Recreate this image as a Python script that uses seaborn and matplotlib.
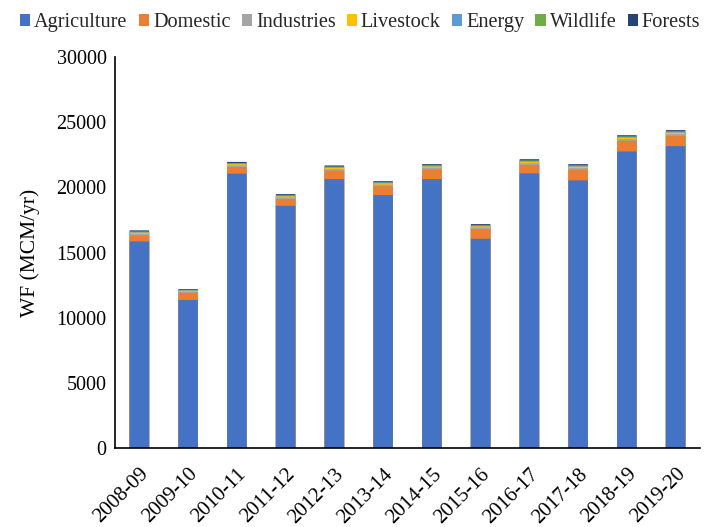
import matplotlib
matplotlib.use("Agg")
import matplotlib.pyplot as plt
from matplotlib.patches import Patch
import numpy as np
import pandas as pd
import seaborn as sns

years = ["2008-09", "2009-10", "2010-11", "2011-12", "2012-13", "2013-14",
         "2014-15", "2015-16", "2016-17", "2017-18", "2018-19", "2019-20"]
agriculture = [15850, 11350, 21050, 18580, 20630, 19400, 20630, 16050, 21070, 20530, 22750, 23160]
domestic = [460, 560, 500, 510, 640, 690, 740, 740, 640, 810, 820, 790]
industries = [120, 90, 125, 120, 130, 120, 130, 120, 140, 135, 135, 135]
livestock = [100, 70, 105, 100, 105, 100, 105, 100, 115, 115, 110, 115]
energy = [60, 40, 60, 60, 65, 60, 65, 60, 70, 70, 70, 70]
wildlife = [25, 20, 25, 25, 25, 25, 25, 25, 30, 30, 25, 30]
forests = [85, 60, 85, 85, 85, 80, 85, 85, 95, 90, 90, 90]

series = ["Agriculture", "Domestic", "Industries", "Livestock", "Energy", "Wildlife", "Forests"]
colors = ["#4472C4", "#ED7D31", "#A5A5A5", "#FFC000", "#5B9BD5", "#70AD47", "#264478"]

df = pd.DataFrame({"Year": years, "Agriculture": agriculture, "Domestic": domestic,
                   "Industries": industries, "Livestock": livestock, "Energy": energy,
                   "Wildlife": wildlife, "Forests": forests})
cum = df[series].cumsum(axis=1)

sns.set_theme(style="white")
plt.rcParams["font.family"] = ["Liberation Serif", "DejaVu Serif"]

fig = plt.figure(figsize=(7.16, 5.27), dpi=100)
ax = fig.add_axes([115 / 716, 1 - 448 / 527, 585 / 716, 391 / 527])

# stacked bars: draw cumulative totals from the top layer down
for name, col in zip(series[::-1], colors[::-1]):
    sns.barplot(x=df["Year"], y=cum[name], color=col, width=0.4, ax=ax,
                saturation=1, linewidth=0)

# keep the thin upper layers from being rounded away to whole pixels
for p in ax.patches:
    p.set_snap(False)

ax.set_ylim(0, 30000)
ax.set_yticks(np.arange(0, 30001, 5000))
ax.set_xlabel("")
ax.set_ylabel("WF (MCM/yr)", fontsize=15.5, color="black", labelpad=12)
ax.tick_params(axis="y", labelsize=14.5, colors="black", length=0, pad=6)
ax.tick_params(axis="x", labelsize=15, colors="black", length=0, pad=12)
plt.setp(ax.get_xticklabels(), rotation=45, ha="right", rotation_mode="anchor")
sns.despine(ax=ax)
for s in ["left", "bottom"]:
    ax.spines[s].set_color("black")
    ax.spines[s].set_linewidth(1.2)

handles = [Patch(facecolor=c, edgecolor="none") for c in colors]
fig.legend(handles, series, loc="upper center", bbox_to_anchor=(0.503, 1.01), ncol=7,
           frameon=False, fontsize=14.6, handlelength=0.5, handleheight=0.5,
           handletextpad=0.2, columnspacing=0.55)

fig.savefig("out.png", dpi=100)
